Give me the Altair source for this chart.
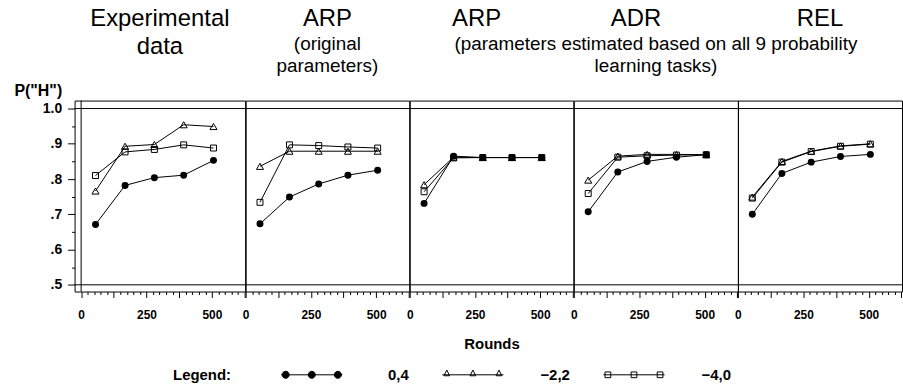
import altair as alt
import pandas as pd

# ---------------- data ----------------
rounds = [55, 168, 280, 392, 506]
series_names = ["0,4", "\u22122,2", "\u22124,0"]
panel_keys = ["exp", "arp_orig", "arp_est", "adr", "rel"]

exp_04 = [0.671, 0.782, 0.804, 0.811, 0.853]
exp_22 = [0.766, 0.893, 0.898, 0.954, 0.949]
exp_40 = [0.810, 0.877, 0.884, 0.897, 0.888]

arp_orig_04 = [0.673, 0.749, 0.786, 0.811, 0.825]
arp_orig_22 = [0.836, 0.879, 0.879, 0.879, 0.879]
arp_orig_40 = [0.734, 0.897, 0.895, 0.891, 0.888]

arp_est_04 = [0.731, 0.865, 0.861, 0.861, 0.861]
arp_est_22 = [0.784, 0.862, 0.861, 0.861, 0.861]
arp_est_40 = [0.764, 0.860, 0.861, 0.861, 0.861]

adr_04 = [0.707, 0.820, 0.850, 0.862, 0.869]
adr_22 = [0.797, 0.865, 0.870, 0.870, 0.869]
adr_40 = [0.759, 0.862, 0.866, 0.868, 0.869]

rel_04 = [0.700, 0.816, 0.848, 0.864, 0.870]
rel_22 = [0.749, 0.850, 0.879, 0.894, 0.900]
rel_40 = [0.746, 0.848, 0.878, 0.893, 0.899]

ref_levels = [0.5, 1.0]
x_origin = [0]
y_ticks = [0.5, 0.55, 0.6, 0.65, 0.7, 0.75, 0.8, 0.85, 0.9, 0.95, 1.0]
x_ticks = list(range(0, 626, 25))

values = {
    "exp": [exp_04, exp_22, exp_40],
    "arp_orig": [arp_orig_04, arp_orig_22, arp_orig_40],
    "arp_est": [arp_est_04, arp_est_22, arp_est_40],
    "adr": [adr_04, adr_22, adr_40],
    "rel": [rel_04, rel_22, rel_40],
}
rows = []
for pk in panel_keys:
    for s, vals in zip(series_names, values[pk]):
        for r, v in zip(rounds, vals):
            rows.append({"panel": pk, "series": s, "rounds": r, "p": v})
df = pd.DataFrame(rows)
ref_df = pd.DataFrame({"p": ref_levels})
origin_df = pd.DataFrame({"rounds": x_origin})

# ---------------- styling ----------------
FONT = "Liberation Sans"
Y_DOMAIN = [0.481, 1.0226]
X_MAX = 627
HEIGHT = 192
MAJOR_Y = "abs(datum.value*10 - round(datum.value*10)) < 0.001"

def x_axis(title):
    kw = dict(
        values=x_ticks,
        labelExpr="datum.value % 250 === 0 ? datum.label : ''",
        labelFont=FONT, labelFontWeight="bold", labelFontSize=12, labelColor="black",
        labelPadding=12, labelFlush=False, labelOverlap=False,
        tickColor="black", tickWidth=1,
        tickSize={"condition": {"test": "datum.value % 125 === 0", "value": 6}, "value": 3},
        domain=False, grid=False,
    )
    if title:
        kw.update(title=title, titleFont=FONT, titleFontWeight="bold", titleFontSize=15,
                  titleColor="black", titlePadding=16)
    else:
        kw["title"] = None
    return alt.Axis(**kw)

y_axis = alt.Axis(
    values=y_ticks,
    labelExpr=MAJOR_Y + " ? (datum.value >= 0.999 ? '1.0' : replace(format(datum.value, '.1f'), '0.', '.')) : ''",
    labelFont=FONT, labelFontWeight="bold", labelFontSize=14, labelColor="black",
    labelPadding=6, labelFlush=False, labelOverlap=False,
    tickColor="black", tickWidth=1,
    tickSize={"condition": {"test": MAJOR_Y, "value": 7}, "value": 3},
    domain=False, grid=False,
    title='P("H")', titleAngle=0, titleAlign="left", titleBaseline="bottom",
    titleX=-61, titleY=-2, titleFont=FONT, titleFontWeight="bold", titleFontSize=16,
    titleColor="black",
)

# legend symbols: line with three markers (unit coordinates, symbol box 64 px wide)
MARK_X = (-0.82, 0, 0.82)

def circ(cx, r=0.11):
    return f"M{cx + r},0 A{r},{r} 0 1,0 {cx - r},0 A{r},{r} 0 1,0 {cx + r},0 Z "

def tri(cx, h=0.09):
    return f"M{cx - h},{0.03} L{cx + h},{0.03} L{cx},{-0.15} Z "

def sq(cx, h=0.09):
    return f"M{cx - h},{-h} L{cx + h},{-h} L{cx + h},{h} L{cx - h},{h} Z "

line_path = "M0,-1 M0,1 M-0.96,0 L0.96,0 "
legend_paths = [
    line_path + "".join(circ(c) for c in MARK_X),
    line_path + "".join(tri(c) for c in MARK_X),
    line_path + "".join(sq(c) for c in MARK_X),
]

leg = alt.Legend(
    title="Legend:", orient="none", legendX=99, legendY=243, direction="horizontal",
    titleOrient="left", titleAnchor="middle", titleBaseline="middle",
    titleFont=FONT, titleFontWeight="bold", titleFontSize=15,
    titleColor="black", titlePadding=48,
    labelFont=FONT, labelFontWeight="bold", labelFontSize=15, labelColor="black",
    labelOffset=65, labelAlign="right",
    symbolSize=4096, symbolStrokeWidth=1, symbolStrokeColor="black",
    columnPadding=31, gridAlign="all", columns=3,
)

def make_panel(key, title, width, x_min, show_y, x_title, legend=False):
    d = df[df.panel == key]
    xenc = alt.X("rounds:Q", scale=alt.Scale(domain=[x_min, X_MAX], nice=False, zero=False),
                 axis=x_axis(x_title))
    yenc = alt.Y("p:Q", scale=alt.Scale(domain=Y_DOMAIN, nice=False, zero=False),
                 axis=y_axis if show_y else None)
    layers = [alt.Chart(ref_df).mark_rule(color="black", strokeWidth=1).encode(y=yenc)]
    if x_min < 0:
        layers.append(alt.Chart(origin_df).mark_rule(color="black", strokeWidth=1).encode(x=xenc))
    base = alt.Chart(d)
    layers.append(base.mark_line(color="black", strokeWidth=1).encode(x=xenc, y=yenc, detail="series:N"))
    layers.append(base.transform_filter(alt.datum.series == series_names[0])
                  .mark_point(shape="circle", filled=True, size=49, color="black", opacity=1)
                  .encode(x=xenc, y=yenc))
    layers.append(base.transform_filter(alt.datum.series == series_names[1])
                  .mark_point(shape="triangle-up", filled=False, size=50, color="black",
                              strokeWidth=1, opacity=1)
                  .encode(x=xenc, y=yenc))
    layers.append(base.transform_filter(alt.datum.series == series_names[2])
                  .mark_point(shape="square", filled=False, size=36, color="black",
                              strokeWidth=1, opacity=1)
                  .encode(x=xenc, y=yenc))
    if legend:
        layers.append(
            alt.Chart(df).transform_filter("false")
            .mark_point(size=4096, filled=False, strokeWidth=1, opacity=1)
            .encode(
                shape=alt.Shape("series:N", scale=alt.Scale(domain=series_names, range=legend_paths), legend=leg),
                fill=alt.Fill("series:N", scale=alt.Scale(domain=series_names, range=["black", "white", "white"]), legend=leg),
                stroke=alt.Stroke("series:N", scale=alt.Scale(domain=series_names, range=["black", "black", "black"]), legend=leg),
            )
        )
    return alt.layer(*layers).properties(width=width, height=HEIGHT, title=title)

def big_title(text, offset, subtitle=None, dx=0):
    kw = dict(text=text, fontSize=24, font=FONT, fontWeight="normal", color="black",
              anchor="middle", offset=offset, lineHeight=28, dx=dx)
    if subtitle:
        kw.update(subtitle=subtitle, subtitleFont=FONT, subtitleFontSize=19,
                  subtitleColor="black", subtitleLineHeight=22, subtitlePadding=4)
    return alt.Title(**kw)

# trailing no-break spaces (kept by a zero-width space) shift "ADR" left of its subtitle
ADR_TEXT = "ADR" + "\u00a0" * 6 + "\u200b"
p1 = make_panel("exp", big_title(["Experimental", "data"], 24), 171.5, -25, True, None, legend=True)
p2 = make_panel("arp_orig", big_title("ARP", 25, ["(original", "parameters)"]), 164.5, 0, False, None)
p3 = make_panel("arp_est", big_title("ARP", 70, dx=-15), 164.5, 0, False, "Rounds")
p4 = make_panel("adr", big_title(ADR_TEXT, 25, ["(parameters estimated based on all 9 probability",
                                                "learning tasks)"]), 165, 0, False, None)
p5 = make_panel("rel", big_title("REL", 70), 165, 0, False, None)

chart = (
    alt.hconcat(p1, p2, p3, p4, p5, spacing=0, bounds="flush")
    .configure(padding={"left": 13, "top": 5, "right": 0, "bottom": 0}, background="white")
    .configure_view(stroke="black", strokeWidth=1)
)

chart.save("out.html", embed_options={"renderer": "svg", "actions": False})
